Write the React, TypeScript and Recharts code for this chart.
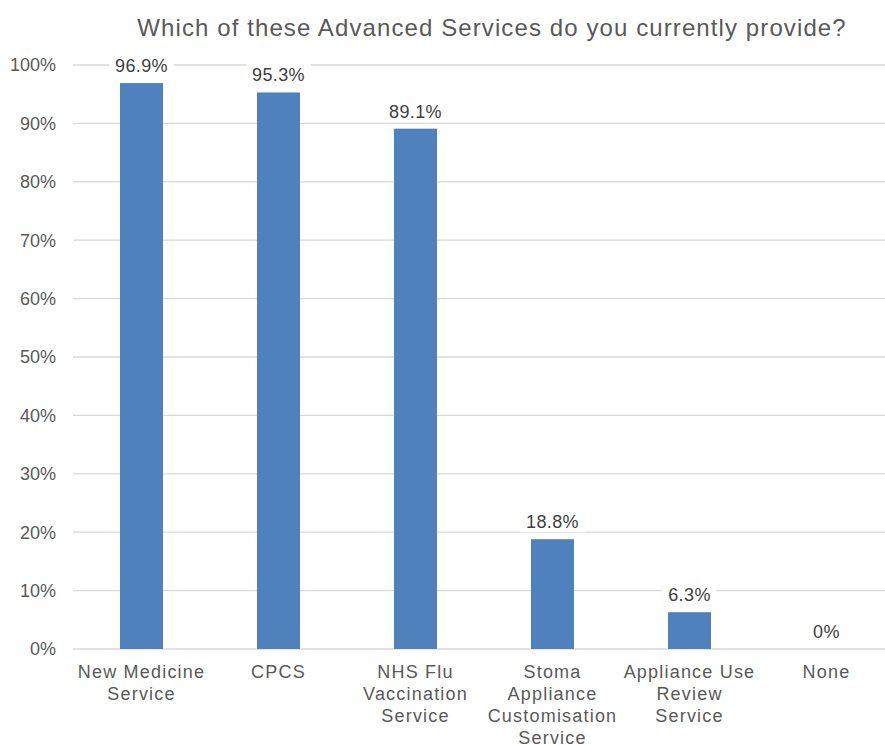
import React from 'react';
import { BarChart, Bar, XAxis, YAxis, CartesianGrid } from 'recharts';

const categories = [
  'New Medicine Service',
  'CPCS',
  'NHS Flu Vaccination Service',
  'Stoma Appliance Customisation Service',
  'Appliance Use Review Service',
  'None',
];
const tickLines = [
  ['New Medicine', 'Service'],
  ['CPCS'],
  ['NHS Flu', 'Vaccination', 'Service'],
  ['Stoma', 'Appliance', 'Customisation', 'Service'],
  ['Appliance Use', 'Review', 'Service'],
  ['None'],
];
const values = [96.9, 95.3, 89.1, 18.8, 6.3, 0];
const valueLabels = ['96.9%', '95.3%', '89.1%', '18.8%', '6.3%', '0%'];
const yTicks = [0, 10, 20, 30, 40, 50, 60, 70, 80, 90, 100];

const data = categories.map((name, i) => ({ name, value: values[i], label: valueLabels[i] }));

const FONT = '"Liberation Sans", Arial, sans-serif';

const CategoryTick = (props: any) => {
  const { x, y, payload } = props;
  const lines = tickLines[payload.index] || [payload.value];
  return (
    <text x={x} y={y} textAnchor="middle" fill="#595959" fontSize={18} letterSpacing={1.2} fontFamily={FONT}>
      {lines.map((l: string, i: number) => (
        <tspan key={i} x={x} dy={i === 0 ? 20.5 : 22}>{l}</tspan>
      ))}
    </text>
  );
};

// draws the bar and its value label (so the 0% label shows too)
const BarWithLabel = (props: any) => {
  const { x, y, width, height, index, fill } = props;
  const text = valueLabels[index];
  const cx = x + width / 2;
  const w = text.length * 10.5 + 12;
  return (
    <g>
      {height > 0 && <rect x={x} y={y} width={width} height={height} fill={fill} />}
      <rect x={cx - w / 2} y={y - 29} width={w} height={22} fill="#fff" />
      <text x={cx} y={y - 11} textAnchor="middle" fill="#404040" fontSize={18} letterSpacing={0.4} fontFamily={FONT}>{text}</text>
    </g>
  );
};

export default function App() {
  return (
    <div style={{ position: 'absolute', left: 0, top: 0, width: 885, height: 745, overflow: 'hidden', background: '#fff' }}>
      <div style={{ position: 'absolute', left: 0, top: 0 }}>
        <BarChart width={895} height={745} data={data} margin={{ top: 65, right: 0, left: 0, bottom: 0 }} barCategoryGap={0}>
          <text x={492} y={36} textAnchor="middle" fill="#595959" fontSize={24} fontFamily={FONT} letterSpacing={1.1}>
            Which of these Advanced Services do you currently provide?
          </text>
          <CartesianGrid vertical={false} stroke="#d9d9d9" strokeWidth={1.3} />
          <XAxis dataKey="name" axisLine={false} tickLine={false} height={96} interval={0} tick={<CategoryTick />} />
          <YAxis
            width={73}
            domain={[0, 100]}
            ticks={yTicks}
            axisLine={false}
            tickLine={false}
            tickFormatter={(v: number) => `${v}%`}
            tick={{ fill: '#595959', fontSize: 18, fontFamily: FONT, dx: -9 }}
          />
          <Bar dataKey="value" fill="#4f81bd" barSize={43} isAnimationActive={false} shape={<BarWithLabel />} />
        </BarChart>
      </div>
    </div>
  );
}
